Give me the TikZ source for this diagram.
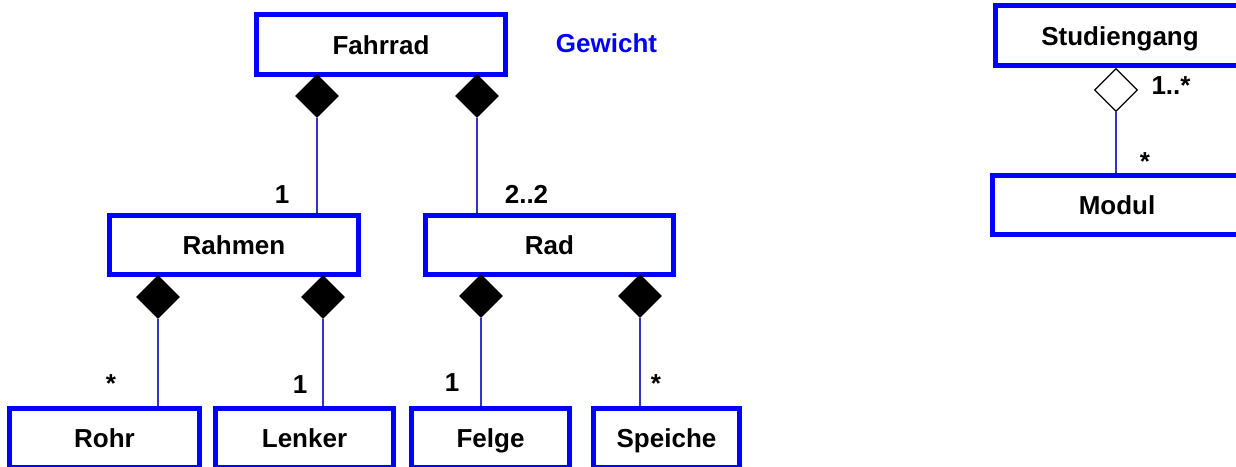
\documentclass[tikz,border=0pt]{standalone}
\usepackage{fontspec}
\setmainfont{Liberation Sans}
\usetikzlibrary{shapes.geometric}
\definecolor{boxblue}{RGB}{0,0,255}
\definecolor{linkblue}{RGB}{51,51,204}
\begin{document}
\begin{tikzpicture}[x=1pt,y=-1pt,
  cls/.style={draw=boxblue, line width=5pt, fill=white,
    font=\bfseries\fontsize{26}{30}\selectfont,
    text height=19pt, text depth=0pt, inner sep=0pt, minimum height=59pt},
  comp/.style={diamond, fill=black, minimum width=44pt, minimum height=44pt, inner sep=0pt},
  agg/.style={diamond, draw=black, fill=white, line width=1.3pt, minimum width=43pt, minimum height=43pt, inner sep=0pt},
  link/.style={draw=linkblue, line width=1.5pt},
  mult/.style={font=\bfseries\fontsize{26}{30}\selectfont, anchor=base, inner sep=0pt}]
\useasboundingbox (0,0) rectangle (1236,466);
\clip (0,0) rectangle (1236,466);

% classes
\node[cls, minimum width=249pt, minimum height=60pt] (fahrrad) at (381,44.5) {Fahrrad};
\node[cls, minimum width=249pt] (rahmen) at (234,245) {Rahmen};
\node[cls, minimum width=248pt] (rad) at (549.5,245) {Rad};
\node[cls, minimum width=190pt] (rohr) at (104.5,438) {Rohr};
\node[cls, minimum width=178pt] (lenker) at (304.5,438) {Lenker};
\node[cls, minimum width=158pt] (felge) at (490.5,438) {Felge};
\node[cls, minimum width=146pt] (speiche) at (666.5,438) {Speiche};
\node[cls, minimum width=249pt, minimum height=60pt] (studiengang) at (1120,35.5) {Studiengang};
\node[cls, minimum width=249pt] (modul) at (1117,205) {Modul};

\node[font=\bfseries\fontsize{26}{30}\selectfont, text=boxblue, anchor=base, inner sep=0pt] (gewicht) at (606.5,52.5) {Gewicht};

% diamonds
\node[comp] (d1) at (317,96) {};
\node[comp] (d2) at (477,96) {};
\node[comp] (d3) at (158,297) {};
\node[comp] (d4) at (323,297) {};
\node[comp] (d5) at (481,296) {};
\node[comp] (d6) at (640,296) {};
\node[agg] (d7) at (1116,90) {};

% connectors
\draw[link] (d1.south) -- (d1.south |- rahmen.north);
\draw[link] (d2.south) -- (d2.south |- rad.north);
\draw[link] (d3.south) -- (d3.south |- rohr.north);
\draw[link] (d4.south) -- (d4.south |- lenker.north);
\draw[link] (d5.south) -- (d5.south |- felge.north);
\draw[link] (d6.south) -- (d6.south |- speiche.north);
\draw[link] (d7.south) -- (d7.south |- modul.north);

% multiplicities
\node[mult] (m1) at (282,203) {1};
\node[mult] (m2) at (526.5,203) {2..2};
\node[mult] (m3) at (111,392) {*};
\node[mult] (m4) at (300,393) {1};
\node[mult] (m5) at (452,391) {1};
\node[mult] (m6) at (656,392) {*};
\node[mult] (m7) at (1171,94.5) {1..*};
\node[mult] (m8) at (1145,170) {*};
\end{tikzpicture}
\end{document}
